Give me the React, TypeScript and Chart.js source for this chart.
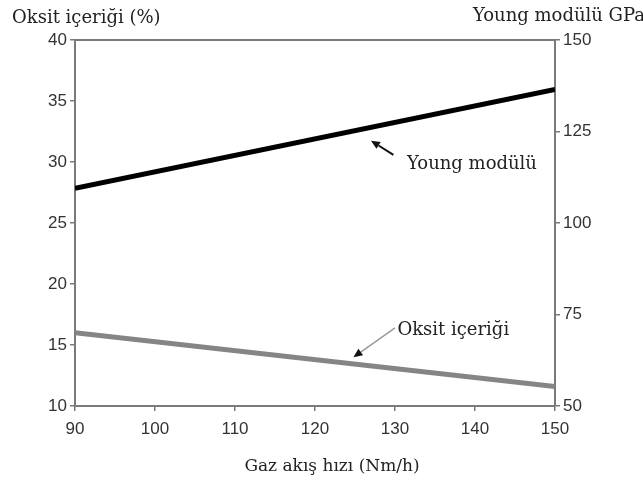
import React, { useEffect, useRef } from "react";
import { Chart, registerables } from "chart.js";

Chart.register(...registerables);

// Gas flow rate (Nm/h)
const flowRates = [90, 150];
// Young's modulus (GPa), right axis
const youngModulus = [109.5, 136.5];
// Oxide content (%), left axis
const oxideContent = [16.0, 11.6];

const xTicks = { min: 90, max: 150, step: 10 };
const leftTicks = { min: 10, max: 40, step: 5 };
const rightTicks = { min: 50, max: 150, step: 25 };

const leftTitle = "Oksit içeriği (%)";
const rightTitle = "Young modülü GPa";
const xTitle = "Gaz akış hızı (Nm/h)";

// Callouts: arrow tip, arrow tail and label anchor, in data units
const callouts = [
  { text: "Young modülü", axis: "y1", tip: [127, 122.5], tail: [129.8, 118.6], label: [131.5, 116.0], lineColor: "#111", lineWidth: 2 },
  { text: "Oksit içeriği", axis: "y", tip: [124.8, 14.0], tail: [130.0, 16.4], label: [130.3, 16.2], lineColor: "#9a9a9a", lineWidth: 1.5 },
];

const serif = "'DejaVu Serif', serif";
const sans = "'Liberation Sans', Arial, sans-serif";
const axisGray = "#7a7a7a";

const decorations = {
  id: "decorations",
  afterDraw(chart: any) {
    const { ctx, chartArea, scales } = chart;
    ctx.save();
    // top frame line
    ctx.strokeStyle = axisGray;
    ctx.lineWidth = 2;
    ctx.beginPath();
    ctx.moveTo(chartArea.left, chartArea.top);
    ctx.lineTo(chartArea.right, chartArea.top);
    ctx.stroke();

    ctx.fillStyle = "#222";
    ctx.font = `18px ${serif}`;
    ctx.textBaseline = "middle";
    ctx.textAlign = "left";
    ctx.fillText(leftTitle, 12, 18);
    ctx.textAlign = "right";
    ctx.fillText(rightTitle, 645, 16);
    ctx.font = `17px ${serif}`;
    ctx.textAlign = "center";
    ctx.fillText(xTitle, (chartArea.left + chartArea.right) / 2 + 17, 467);

    for (const c of callouts) {
      const ys = scales[c.axis];
      const tx = scales.x.getPixelForValue(c.tip[0]);
      const ty = ys.getPixelForValue(c.tip[1]);
      const sx = scales.x.getPixelForValue(c.tail[0]);
      const sy = ys.getPixelForValue(c.tail[1]);
      const ang = Math.atan2(ty - sy, tx - sx);
      const head = 9;
      const bx = tx - head * Math.cos(ang);
      const by = ty - head * Math.sin(ang);
      ctx.strokeStyle = c.lineColor;
      ctx.lineWidth = c.lineWidth;
      ctx.beginPath();
      ctx.moveTo(sx, sy);
      ctx.lineTo(bx, by);
      ctx.stroke();
      ctx.fillStyle = "#111";
      ctx.beginPath();
      ctx.moveTo(tx, ty);
      ctx.lineTo(bx + 4 * Math.sin(ang), by - 4 * Math.cos(ang));
      ctx.lineTo(bx - 4 * Math.sin(ang), by + 4 * Math.cos(ang));
      ctx.closePath();
      ctx.fill();

      ctx.fillStyle = "#222";
      ctx.textAlign = "left";
      ctx.textBaseline = "middle";
      ctx.font = `18px ${serif}`;
      ctx.fillText(c.text, scales.x.getPixelForValue(c.label[0]), ys.getPixelForValue(c.label[1]));
    }
    ctx.restore();
  },
};

export default function App() {
  const ref = useRef<HTMLCanvasElement | null>(null);

  useEffect(() => {
    if (!ref.current) return;
    const tickFont = { family: sans, size: 17 };
    const chart = new Chart(ref.current, {
      type: "line",
      data: {
        datasets: [
          {
            label: "Young modülü",
            data: flowRates.map((x, i) => ({ x, y: youngModulus[i] })),
            yAxisID: "y1",
            borderColor: "#000",
            borderWidth: 5,
            pointRadius: 0,
          },
          {
            label: "Oksit içeriği",
            data: flowRates.map((x, i) => ({ x, y: oxideContent[i] })),
            yAxisID: "y",
            borderColor: "#858585",
            borderWidth: 5,
            pointRadius: 0,
          },
        ],
      },
      options: {
        responsive: false,
        animation: false,
        layout: { padding: { top: 40, left: 0, right: 0, bottom: 0 } },
        plugins: { legend: { display: false }, tooltip: { enabled: false } },
        scales: {
          x: {
            type: "linear",
            min: xTicks.min,
            max: xTicks.max,
            ticks: { stepSize: xTicks.step, font: tickFont, color: "#333", padding: 8, maxRotation: 0 },
            grid: { drawOnChartArea: false, color: axisGray, tickLength: 5, lineWidth: 1.5 },
            border: { color: axisGray, width: 2 },
            afterFit: (s: any) => { s.height = 80; },
          },
          y: {
            position: "left",
            min: leftTicks.min,
            max: leftTicks.max,
            ticks: { stepSize: leftTicks.step, font: tickFont, color: "#333", padding: 3 },
            grid: { drawOnChartArea: false, color: axisGray, tickLength: 5, lineWidth: 1.5 },
            border: { color: axisGray, width: 2 },
            afterFit: (s: any) => { s.width = 75; },
          },
          y1: {
            position: "right",
            min: rightTicks.min,
            max: rightTicks.max,
            ticks: { stepSize: rightTicks.step, font: tickFont, color: "#333", padding: 3 },
            grid: { drawOnChartArea: false, color: axisGray, tickLength: 5, lineWidth: 1.5 },
            border: { color: axisGray, width: 2 },
            afterFit: (s: any) => { s.width = 88; },
          },
        },
      },
      plugins: [decorations],
    });
    return () => chart.destroy();
  }, []);

  return (
    <div style={{ position: "fixed", left: 0, top: 0, width: 643, height: 486, background: "#fff" }}>
      <canvas ref={ref} width={643} height={486} />
    </div>
  );
}
